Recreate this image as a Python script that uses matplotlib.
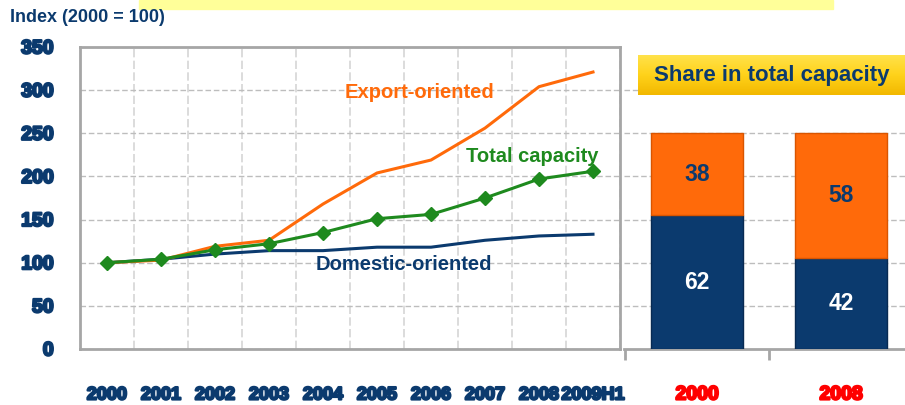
import matplotlib
matplotlib.use("Agg")
import matplotlib.pyplot as plt
import matplotlib.patheffects as pe
from matplotlib.patches import Rectangle
from matplotlib.colors import LinearSegmentedColormap
import numpy as np

plt.rcParams['font.family'] = ['Liberation Sans', 'DejaVu Sans']

years = ["2000", "2001", "2002", "2003", "2004", "2005", "2006", "2007", "2008", "2009H1"]
export_oriented = [100, 103, 119, 126, 168, 204, 219, 256, 304, 321]
total_capacity = [100, 104, 115, 122, 135, 151, 156, 175, 197, 206]
domestic_oriented = [100, 104, 110, 114, 114, 118, 118, 126, 131, 133]

share_years = ["2000", "2008"]
share_domestic = [62, 42]
share_export = [38, 58]

NAVY = "#0B3A6E"
ORANGE = "#FF6A0A"
GREEN = "#1E8A1E"
GRID = "#BDBDBD"
SPINE = "#A6A6A6"

W, H = 905, 405
fig = plt.figure(figsize=(W / 100, H / 100), dpi=100)

def fx(px):
    return px / W

def fy(py):
    return 1 - py / H

# top yellow band
fig.patches.append(Rectangle((fx(139), fy(9)), fx(833) - fx(139), 9 / H,
                             transform=fig.transFigure, color="#FFFF99", zorder=0))

fig.text(fx(10), fy(18), "Index (2000 = 100)", color=NAVY, fontsize=13,
         fontweight="bold", va="center", ha="left")

# ---------------- left line chart ----------------
ax = fig.add_axes([fx(80), fy(349), (620 - 80) / W, (349 - 47) / H])
x = np.arange(len(years))
ax.plot(x, domestic_oriented, color=NAVY, lw=2.2, zorder=3)
ax.plot(x, export_oriented, color=ORANGE, lw=2.2, zorder=4)
ax.plot(x, total_capacity, color=GREEN, lw=2.2, marker="D", markersize=7,
        markerfacecolor=GREEN, markeredgecolor=GREEN, zorder=5)

ax.set_xlim(-0.5, len(years) - 0.5)
ax.set_ylim(0, 350)
ax.set_yticks(np.arange(0, 351, 50))
ax.set_xticks(x)
ax.set_xticklabels(years)
ax.set_xticks(np.arange(-0.5, len(years), 1), minor=True)
ax.grid(False)
ax.yaxis.grid(True, color=GRID, ls=(0, (4, 2)), lw=1)
ax.xaxis.grid(True, which="minor", color="#D5D5D5", ls=(0, (5, 2)), lw=1.2)
ax.set_axisbelow(True)
for s in ax.spines.values():
    s.set_color(SPINE)
    s.set_linewidth(2)
ax.tick_params(axis="both", which="both", length=0)
ax.tick_params(axis="y", pad=19)
ax.tick_params(axis="x", pad=27)
stroke_navy = [pe.withStroke(linewidth=1.6, foreground=NAVY)]
for lbl in ax.get_yticklabels():
    lbl.set_fontsize(14)
    lbl.set_fontweight("bold")
    lbl.set_color(NAVY)
    lbl.set_path_effects(stroke_navy)
for lbl in ax.get_xticklabels():
    lbl.set_fontsize(13)
    lbl.set_fontweight("bold")
    lbl.set_color(NAVY)
    lbl.set_path_effects(stroke_navy)

ax.text(4.4, 297, "Export-oriented", color=ORANGE, fontsize=14.5,
        fontweight="bold", ha="left", va="center")
ax.text(6.65, 223, "Total capacity", color=GREEN, fontsize=14.5,
        fontweight="bold", ha="left", va="center")
ax.text(3.87, 98, "Domestic-oriented", color=NAVY, fontsize=14.5,
        fontweight="bold", ha="left", va="center")

# ---------------- right bar chart ----------------
bx = fig.add_axes([fx(624), fy(349), (905 - 624) / W, (349 - 47) / H])
xb = np.arange(len(share_years))
bx.bar(xb, share_domestic, width=0.64, color=NAVY, edgecolor="#082A52",
       lw=1, zorder=3)
bx.bar(xb, share_export, width=0.64, bottom=share_domestic, color=ORANGE,
       edgecolor="#D95500", lw=1, zorder=3)
for i in range(len(share_years)):
    bx.text(xb[i], share_domestic[i] / 2, str(share_domestic[i]), color="white",
            fontsize=16.5, fontweight="bold", ha="center", va="center", zorder=4)
    bx.text(xb[i], share_domestic[i] + share_export[i] / 2, str(share_export[i]),
            color=NAVY, fontsize=16.5, fontweight="bold", ha="center",
            va="center", zorder=4)

bx.set_xlim(-0.507, 1.444)
bx.set_ylim(0, 140)
bx.set_yticks(np.arange(20, 121, 20))
bx.yaxis.grid(True, color=GRID, ls=(0, (4, 2)), lw=1)
bx.set_axisbelow(True)
for k in ["left", "right", "top"]:
    bx.spines[k].set_visible(False)
bx.spines["bottom"].set_color(SPINE)
bx.spines["bottom"].set_linewidth(2)
bx.set_xticks(xb)
bx.set_xticklabels(share_years)
bx.set_xticks([-0.5, 0.5], minor=True)
bx.tick_params(axis="y", length=0, labelleft=False)
bx.tick_params(axis="x", which="major", length=0, pad=27)
bx.tick_params(axis="x", which="minor", length=8, width=2, color=SPINE,
               direction="out")
stroke_red = [pe.withStroke(linewidth=1.6, foreground="#FF0000")]
for lbl in bx.get_xticklabels():
    lbl.set_fontsize(14)
    lbl.set_fontweight("bold")
    lbl.set_color("#FF0000")
    lbl.set_path_effects(stroke_red)

# title box with gradient
gax = fig.add_axes([fx(638), fy(95), (905 - 638) / W, 40 / H])
grad = np.linspace(0, 1, 100).reshape(-1, 1)
cmap = LinearSegmentedColormap.from_list("gold", ["#F2B800", "#FFD21A", "#FFE24A"])
gax.imshow(grad, aspect="auto", cmap=cmap, extent=[0, 1, 0, 1], origin="lower")
gax.set_xlim(0, 1)
gax.set_ylim(0, 1)
gax.axis("off")
gax.text(0.5, 0.5, "Share in total capacity", color=NAVY, fontsize=16,
         fontweight="bold", ha="center", va="center", transform=gax.transAxes)

fig.savefig("out.png", dpi=100)
